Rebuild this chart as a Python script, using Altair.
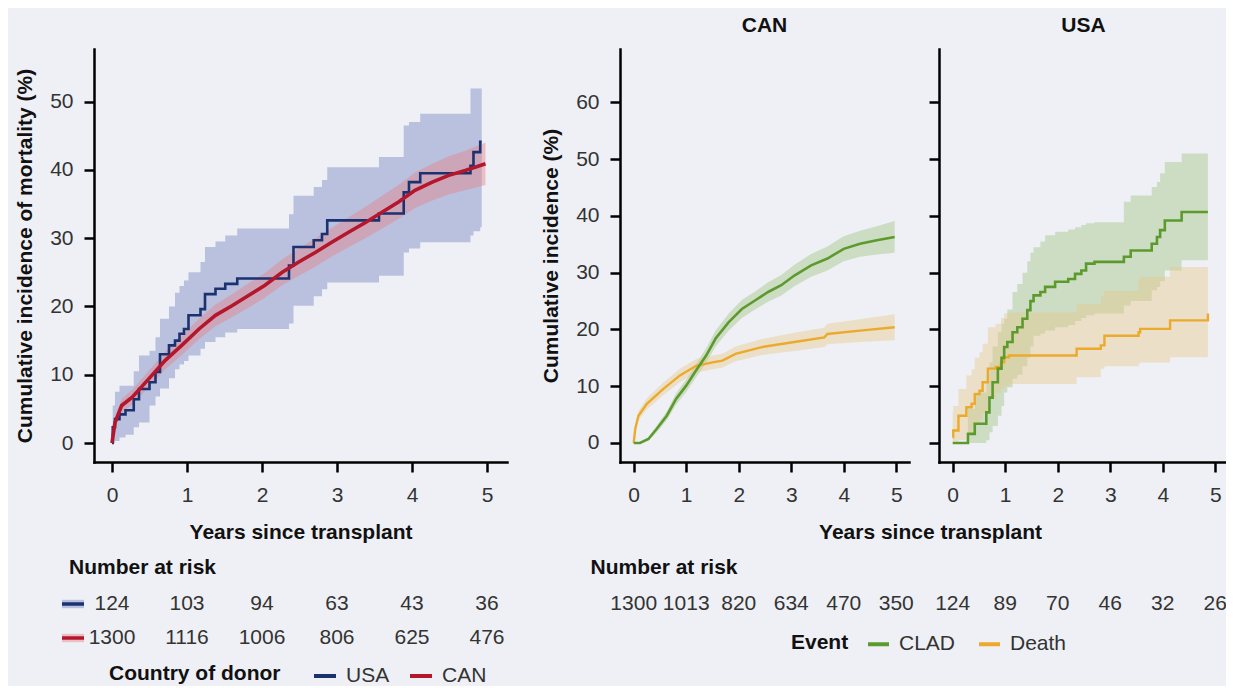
import altair as alt
import pandas as pd

FONT = "Liberation Sans"
BG = "#EEF0F5"

# ---------------- Panel A: mortality by country of donor ----------------
usa_t   = [0.00, 0.01, 0.04, 0.10, 0.18, 0.29, 0.36, 0.50, 0.58, 0.64, 0.76, 0.84, 0.90, 0.96, 1.02, 1.18, 1.24,
           1.38, 1.51, 1.67, 2.36, 2.42, 2.69, 2.80, 2.87, 3.56, 3.89, 3.96, 4.11, 4.78, 4.82, 4.91, 4.93]
usa_est = [0.0, 2.3, 3.5, 4.2, 4.8, 6.4, 7.9, 8.9, 10.4, 13.0, 14.3, 15.0, 16.0, 16.7, 18.7, 19.6, 21.8,
           22.6, 23.3, 24.1, 26.0, 28.7, 29.7, 30.6, 32.6, 33.6, 36.7, 38.2, 39.5, 40.6, 42.6, 44.1, 44.1]
usa_lo  = [0.0, 0.0, 0.3, 0.8, 1.2, 2.3, 3.0, 5.5, 6.8, 8.0, 9.5, 10.8, 11.5, 12.0, 12.8, 13.8, 14.8,
           15.5, 16.2, 16.7, 17.5, 20.1, 21.5, 22.5, 23.5, 24.5, 27.9, 28.5, 29.4, 30.4, 31.0, 31.6, 31.6]
usa_hi  = [0.0, 5.5, 7.5, 8.4, 8.4, 10.5, 12.8, 13.5, 15.5, 18.2, 20.0, 22.0, 23.0, 23.8, 25.0, 26.5, 28.7,
           29.5, 30.4, 31.4, 33.5, 36.2, 37.5, 38.5, 40.4, 41.9, 46.5, 47.0, 48.2, 51.9, 51.9, 51.9, 51.9]

can_t   = [0.00, 0.04, 0.13, 0.27, 0.49, 0.71, 0.93, 1.16, 1.38, 1.60, 1.82, 2.04, 2.27, 2.49, 2.71, 2.93,
           3.16, 3.38, 3.60, 3.82, 4.04, 4.27, 4.49, 4.71, 4.98]
can_est = [0.0, 3.0, 5.5, 6.7, 9.4, 12.1, 14.3, 16.7, 18.7, 20.1, 21.6, 23.1, 25.0, 26.5, 27.9, 29.4,
           30.9, 32.3, 33.8, 35.3, 37.0, 38.2, 39.2, 39.9, 40.9]
can_lo  = [0.0, 2.2, 4.5, 5.6, 8.2, 10.8, 12.9, 15.2, 17.1, 18.4, 19.8, 21.3, 23.1, 24.5, 25.8, 27.3,
           28.7, 30.0, 31.4, 32.8, 34.4, 35.5, 36.4, 37.0, 37.8]
can_hi  = [0.0, 3.8, 6.5, 7.8, 10.6, 13.4, 15.7, 18.2, 20.3, 21.8, 23.4, 24.9, 26.9, 28.5, 30.0, 31.5,
           33.1, 34.6, 36.2, 37.8, 39.6, 40.9, 42.0, 42.8, 44.0]

risk_years = [0, 1, 2, 3, 4, 5]
risk_usa = [124, 103, 94, 63, 43, 36]
risk_can = [1300, 1116, 1006, 806, 625, 476]

# ---------------- Panel B: CLAD / death by recipient country ----------------
cc_t   = [0.00, 0.12, 0.28, 0.44, 0.63, 0.81, 1.00, 1.19, 1.38, 1.56, 1.81, 2.06, 2.31, 2.56, 2.81, 3.06,
          3.38, 3.69, 4.00, 4.31, 4.63, 4.97]
cc_est = [0.0, 0.0, 0.7, 2.5, 4.8, 7.8, 10.1, 12.8, 15.4, 18.4, 21.3, 23.6, 25.1, 26.6, 27.8, 29.5,
          31.3, 32.5, 34.2, 35.1, 35.7, 36.3]
cc_lo  = [0.0, 0.0, 0.4, 1.9, 4.0, 6.8, 9.0, 11.6, 14.1, 17.0, 19.8, 22.0, 23.5, 24.9, 26.0, 27.6,
          29.3, 30.4, 32.0, 32.8, 33.2, 33.5]
cc_hi  = [0.0, 0.0, 1.0, 3.1, 5.6, 8.8, 11.2, 14.0, 16.7, 19.8, 22.8, 25.2, 26.7, 28.3, 29.6, 31.4,
          33.3, 34.6, 36.4, 37.4, 38.2, 39.1]

cd_t   = [0.00, 0.03, 0.09, 0.25, 0.56, 0.88, 1.19, 1.50, 1.69, 1.94, 2.44, 3.06, 3.63, 3.69, 4.31, 4.97]
cd_est = [0.0, 2.5, 4.8, 6.9, 9.5, 11.9, 13.6, 14.2, 14.5, 15.7, 16.9, 17.8, 18.6, 19.2, 19.8, 20.4]
cd_lo  = [0.0, 2.0, 4.0, 5.9, 8.4, 10.7, 12.4, 13.0, 13.3, 14.4, 15.5, 16.2, 16.9, 17.4, 17.8, 18.1]
cd_hi  = [0.0, 3.0, 5.6, 7.9, 10.6, 13.1, 14.8, 15.4, 15.7, 17.0, 18.3, 19.4, 20.3, 21.0, 21.8, 22.7]

uc_t   = [0.00, 0.29, 0.42, 0.64, 0.70, 0.76, 0.86, 0.93, 0.98, 1.04, 1.14, 1.23, 1.33, 1.42, 1.48, 1.54,
          1.67, 1.76, 1.95, 2.20, 2.33, 2.45, 2.54, 2.70, 3.26, 3.39, 3.79, 3.89, 3.95, 4.04, 4.36, 4.86]
uc_est = [0.0, 1.6, 3.4, 5.4, 8.0, 10.7, 13.1, 15.0, 16.9, 17.8, 19.5, 20.4, 21.9, 23.4, 25.0, 26.0,
          26.6, 27.5, 28.4, 28.9, 29.8, 30.4, 31.6, 31.9, 32.8, 33.9, 35.1, 36.3, 37.5, 39.2, 40.7, 40.7]
uc_lo  = [0.0, 0.0, 0.0, 0.5, 1.9, 3.0, 4.8, 6.5, 8.9, 9.8, 11.3, 12.0, 13.5, 15.0, 17.0, 18.9,
          19.3, 19.8, 20.4, 20.8, 21.5, 22.0, 22.5, 22.8, 24.2, 25.0, 26.9, 27.5, 28.5, 30.4, 32.2, 32.2]
uc_hi  = [0.0, 6.0, 8.9, 11.0, 14.2, 17.0, 19.5, 21.0, 21.9, 23.5, 26.6, 28.0, 30.0, 32.0, 33.5, 34.5,
          35.5, 36.6, 37.2, 37.6, 38.0, 38.4, 38.7, 38.9, 42.5, 43.6, 45.1, 46.0, 47.5, 49.5, 51.0, 51.0]

ud_t   = [0.00, 0.01, 0.11, 0.26, 0.36, 0.42, 0.51, 0.57, 0.67, 0.82, 0.92, 0.98, 1.07, 2.36, 2.82, 2.89,
          3.54, 3.57, 4.14, 4.86]
ud_est = [1.0, 2.2, 4.8, 6.3, 6.9, 8.6, 9.2, 10.7, 13.1, 13.4, 14.2, 15.1, 15.4, 16.6, 17.2, 18.9,
          19.5, 20.1, 21.6, 22.8]
ud_lo  = [0.0, 0.0, 0.5, 1.9, 2.5, 3.5, 4.2, 5.1, 7.8, 8.9, 9.5, 10.0, 10.4, 11.6, 13.1, 13.5,
          13.9, 14.2, 15.1, 15.1]
ud_hi  = [5.4, 6.5, 9.5, 11.9, 13.0, 15.0, 16.0, 17.5, 20.4, 21.0, 22.0, 22.8, 23.0, 24.5, 26.0, 26.8,
          28.9, 29.3, 31.0, 31.0]

risk_can_recip = [1300, 1013, 820, 634, 470, 350]
risk_usa_recip = [124, 89, 70, 46, 32, 26]

# ---------------- tables ----------------
def series(t, est, lo, hi, **cols):
    d = pd.DataFrame({"t": t, "est": est, "lo": lo, "hi": hi})
    for k, v in cols.items():
        d[k] = v
    return d

dfA = pd.concat([series(usa_t, usa_est, usa_lo, usa_hi, donor="USA"),
                 series(can_t, can_est, can_lo, can_hi, donor="CAN")], ignore_index=True)
dfRiskA = pd.DataFrame({"t": risk_years * 2, "row": ["USA"] * 6 + ["CAN"] * 6, "n": risk_usa + risk_can})
dfKeysA = pd.DataFrame({"row": ["USA", "CAN"], "donor": ["USA", "CAN"]})

dfB = pd.concat([series(cc_t, cc_est, cc_lo, cc_hi, event="CLAD", recip="CAN"),
                 series(cd_t, cd_est, cd_lo, cd_hi, event="Death", recip="CAN"),
                 series(uc_t, uc_est, uc_lo, uc_hi, event="CLAD", recip="USA"),
                 series(ud_t, ud_est, ud_lo, ud_hi, event="Death", recip="USA")], ignore_index=True)
dfRiskB = pd.DataFrame({"t": risk_years * 2, "recip": ["CAN"] * 6 + ["USA"] * 6,
                        "n": risk_can_recip + risk_usa_recip})

# ---------------- colours ----------------
USA_LINE, CAN_LINE = "#1B3270", "#B4162C"
USA_BAND, CAN_BAND = "#8692C9", "#E2838C"
CLAD_LINE, DEATH_LINE = "#5C9A2E", "#EBAA2B"
CLAD_BAND, DEATH_BAND = "#9CC178", "#E6C585"

# ---------------- scales / axes ----------------
xsA = alt.Scale(domain=[-0.24, 5.267], range=[0, 413], nice=False, zero=False)
ysA = alt.Scale(domain=[-2.78, 57.7], nice=False, zero=False)
xsB = alt.Scale(domain=[-0.261, 5.243], nice=False, zero=False)
ysB = alt.Scale(domain=[-3.35, 69.41], nice=False, zero=False)
WB = 289

xaxA = alt.Axis(values=risk_years, title="Years since transplant", format="d", labelPadding=12, titlePadding=16)
yaxA = alt.Axis(values=[0, 10, 20, 30, 40, 50], title="Cumulative incidence of mortality (%)",
                labelPadding=11, titlePadding=14)

donor_color = alt.Color("donor:N", scale=alt.Scale(domain=["USA", "CAN"], range=[USA_LINE, CAN_LINE]),
                        legend=alt.Legend(title=None, orient="none", legendX=218, legendY=614,
                                          direction="horizontal", symbolType="stroke", symbolSize=484,
                                          symbolStrokeWidth=4, labelOffset=8, columnPadding=12, padding=0))

# ---------------- Panel A chart ----------------
baseA = alt.Chart(dfA)
XA = alt.X("t:Q", scale=xsA, axis=xaxA)
bandA_usa = baseA.transform_filter("datum.donor === 'USA'").mark_area(
    interpolate="step-after", opacity=0.5, color=USA_BAND).encode(
    x=XA, y=alt.Y("lo:Q", scale=ysA, axis=yaxA), y2="hi:Q")
bandA_can = baseA.transform_filter("datum.donor === 'CAN'").mark_area(opacity=0.45, color=CAN_BAND).encode(
    x=XA, y=alt.Y("lo:Q", scale=ysA, axis=yaxA), y2="hi:Q")
lineA_usa = baseA.transform_filter("datum.donor === 'USA'").mark_line(
    interpolate="step-after", strokeWidth=2.6).encode(
    x=XA, y=alt.Y("est:Q", scale=ysA, axis=yaxA), color=donor_color)
lineA_can = baseA.transform_filter("datum.donor === 'CAN'").mark_line(strokeWidth=3.6).encode(
    x=XA, y=alt.Y("est:Q", scale=ysA, axis=yaxA), color=donor_color)
mainA = alt.layer(bandA_usa, bandA_can, lineA_usa, lineA_can)

riskY = alt.Y("row:N", scale=alt.Scale(type="point", domain=["USA", "CAN"], range=[555, 589], padding=0),
              axis=None)
riskA_text = alt.Chart(dfRiskA).mark_text(font=FONT, fontSize=21, color="#333", baseline="middle").encode(
    x=XA, y=riskY, text="n:Q")
KEY_SHAPE = "M-1,-0.38H1V0.38H-1Z"
keyA_band_usa = alt.Chart(dfKeysA).transform_filter("datum.donor === 'USA'").mark_point(
    shape=KEY_SHAPE, size=484, filled=True, opacity=0.5, strokeWidth=0, color=USA_BAND).encode(
    x=alt.value(-21), y=riskY)
keyA_band_can = alt.Chart(dfKeysA).transform_filter("datum.donor === 'CAN'").mark_point(
    shape=KEY_SHAPE, size=484, filled=True, opacity=0.45, strokeWidth=0, color=CAN_BAND).encode(
    x=alt.value(-21), y=riskY)
keyA_line = alt.Chart(dfKeysA).mark_point(shape="stroke", size=484, filled=False, strokeWidth=3.5,
                                          opacity=1).encode(
    x=alt.value(-21), y=riskY, color=donor_color)
headA = alt.Chart(pd.DataFrame({"label": ["Number at risk"]})).mark_text(
    font=FONT, fontSize=21, fontWeight="bold", color="#111", align="left", baseline="middle").encode(
    x=alt.value(-25), y=alt.value(519), text="label:N")
legtitleA = alt.Chart(pd.DataFrame({"label": ["Country of donor"]})).mark_text(
    font=FONT, fontSize=21, fontWeight="bold", color="#111", align="left", baseline="middle").encode(
    x=alt.value(15), y=alt.value(625), text="label:N")
riskA = alt.layer(riskA_text, keyA_band_usa, keyA_band_can, keyA_line, headA, legtitleA)

panelA = alt.layer(mainA, riskA).resolve_scale(y="independent").properties(width=496, height=413)


# ---------------- Panel B charts ----------------
def recip_panel(recip, interp, show_labels):
    xax = alt.Axis(values=risk_years, format="d", labelPadding=12, titlePadding=16,
                   title="Years since transplant" if show_labels else None,
                   **({"titleX": 310} if show_labels else {}))
    yax = alt.Axis(values=[0, 10, 20, 30, 40, 50, 60], labelPadding=11, titlePadding=14,
                   labels=show_labels, title="Cumulative incidence (%)" if show_labels else None)
    if show_labels:
        leg = alt.Legend(title=None, orient="none", legendX=246, legendY=582.5, direction="horizontal",
                         symbolType="stroke", symbolSize=441, symbolStrokeWidth=4, labelOffset=8,
                         columnPadding=15, padding=0)
    else:
        leg = None
    ecolor = alt.Color("event:N", scale=alt.Scale(domain=["CLAD", "Death"], range=[CLAD_LINE, DEATH_LINE]),
                       legend=leg)
    X = alt.X("t:Q", scale=xsB, axis=xax)
    base = alt.Chart(dfB).transform_filter(f"datum.recip === '{recip}'")
    band_c = base.transform_filter("datum.event === 'CLAD'").mark_area(
        interpolate=interp, opacity=0.4, color=CLAD_BAND).encode(
        x=X, y=alt.Y("lo:Q", scale=ysB, axis=yax), y2="hi:Q")
    band_d = base.transform_filter("datum.event === 'Death'").mark_area(
        interpolate=interp, opacity=0.4, color=DEATH_BAND).encode(
        x=X, y=alt.Y("lo:Q", scale=ysB, axis=yax), y2="hi:Q")
    line_d = base.transform_filter("datum.event === 'Death'").mark_line(
        interpolate=interp, strokeWidth=2.4).encode(
        x=X, y=alt.Y("est:Q", scale=ysB, axis=yax), color=ecolor)
    line_c = base.transform_filter("datum.event === 'CLAD'").mark_line(
        interpolate=interp, strokeWidth=2.6).encode(
        x=X, y=alt.Y("est:Q", scale=ysB, axis=yax), color=ecolor)
    risk = alt.Chart(dfRiskB).transform_filter(f"datum.recip === '{recip}'").mark_text(
        font=FONT, fontSize=21, color="#333", baseline="middle").encode(
        x=X, y=alt.value(555), text="n:Q")
    layers = [band_c, band_d, line_d, line_c, risk]
    if show_labels:
        layers.append(alt.Chart(pd.DataFrame({"label": ["Number at risk"]})).mark_text(
            font=FONT, fontSize=21, fontWeight="bold", color="#111", align="left", baseline="middle").encode(
            x=alt.value(-29.5), y=alt.value(519), text="label:N"))
        layers.append(alt.Chart(pd.DataFrame({"label": ["Event"]})).mark_text(
            font=FONT, fontSize=21, fontWeight="bold", color="#111", align="left", baseline="middle").encode(
            x=alt.value(171), y=alt.value(593.5), text="label:N"))
    return alt.layer(*layers).properties(
        width=WB, height=413,
        title=alt.TitleParams(recip, font=FONT, fontSize=21, fontWeight="bold", color="#111",
                              offset=13, anchor="middle"))


panelCAN = recip_panel("CAN", "linear", True)
panelUSA = recip_panel("USA", "step-after", False)

chart = alt.hconcat(panelA, panelCAN, panelUSA, spacing=30, bounds="flush").resolve_scale(
    color="independent").resolve_legend(color="independent").properties(
    background=BG, padding={"left": 6, "top": 7, "right": -2, "bottom": 0}
).configure_view(stroke=None).configure_axis(
    grid=False, domainColor="#000", domainWidth=2.5, domainCap="square", tickColor="#000", tickWidth=2.5,
    tickSize=10, labelFont=FONT, labelFontSize=21, labelColor="#333", titleFont=FONT, titleFontSize=21,
    titleFontWeight="bold", titleColor="#111"
).configure_legend(labelFont=FONT, labelFontSize=21, labelColor="#333")

chart.save("out.html", embed_options={"renderer": "svg", "actions": False})
